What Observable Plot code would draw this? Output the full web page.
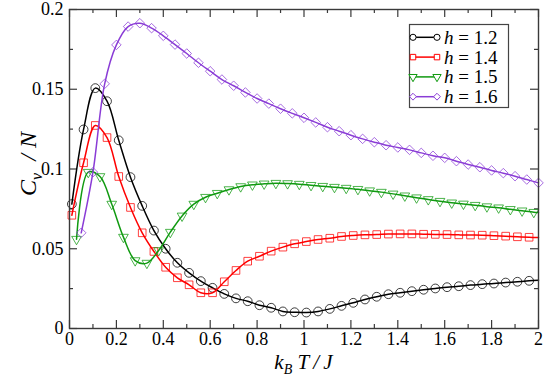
<!DOCTYPE html>
<html><head><meta charset="utf-8">
<script src="https://cdn.jsdelivr.net/npm/d3@7"></script>
<script src="https://cdn.jsdelivr.net/npm/@observablehq/plot@0.6"></script>
<style>
body{margin:0;background:#fff}
#chart{width:545px;height:377px}
#chart svg text, #chart svg tspan{font-family:"Liberation Serif","Liberation Sans",Arial,sans-serif !important;}
</style>
</head><body><div id="chart"></div>
<script>
// Sample temperatures (k_B T / J)
const tGridA = [0.01,0.06,0.11,0.16,0.21,0.26,0.31,0.36,0.41,0.46,0.51,0.56,0.61,0.66,0.71,0.76,0.81,0.86,0.91,0.96,1.01,1.06,1.11,1.16,1.21,1.26,1.31,1.36,1.41,1.46,1.51,1.56,1.61,1.66,1.71,1.76,1.81,1.86,1.91,1.96];
const tGridB = [0.03,0.08,0.13,0.18,0.23,0.28,0.33,0.38,0.43,0.48,0.53,0.58,0.63,0.68,0.73,0.78,0.83,0.88,0.93,0.98,1.03,1.08,1.13,1.18,1.23,1.28,1.33,1.38,1.43,1.48,1.53,1.58,1.63,1.68,1.73,1.78,1.83,1.88,1.93,1.98];
const tGridC = [0.05,0.10,0.15,0.20,0.25,0.30,0.35,0.40,0.45,0.50,0.55,0.60,0.65,0.70,0.75,0.80,0.85,0.90,0.95,1.00,1.05,1.10,1.15,1.20,1.25,1.30,1.35,1.40,1.45,1.50,1.55,1.60,1.65,1.70,1.75,1.80,1.85,1.90,1.95,2.00];

// C_v / N values
const cvH12 = [0.078,0.1248,0.1507,0.1425,0.118,0.0949,0.0769,0.0614,0.050,0.0412,0.0349,0.0297,0.0255,0.0217,0.0189,0.0171,0.0146,0.0130,0.0107,0.0102,0.0100,0.0107,0.0123,0.0142,0.0161,0.0182,0.0199,0.0215,0.0224,0.0234,0.0243,0.0251,0.0259,0.0265,0.0272,0.0278,0.0282,0.0288,0.0293,0.0299];
const cvH14 = [0.071,0.1039,0.1273,0.1197,0.0953,0.0759,0.0600,0.0483,0.0384,0.0318,0.0274,0.0224,0.0224,0.0293,0.0364,0.0422,0.0453,0.0485,0.0510,0.0531,0.0545,0.0558,0.0566,0.0577,0.0583,0.0587,0.0589,0.0592,0.0593,0.0593,0.0591,0.0590,0.0589,0.0587,0.0586,0.0585,0.0582,0.0579,0.0575,0.0572];
const cvH15 = [0.056,0.098,0.0953,0.078,0.0573,0.0426,0.041,0.0489,0.0604,0.0706,0.0780,0.0823,0.0848,0.0871,0.0890,0.0901,0.0907,0.0911,0.0909,0.0905,0.0898,0.0892,0.0886,0.0880,0.0873,0.0864,0.0855,0.0844,0.0832,0.0820,0.0809,0.0798,0.0788,0.0781,0.0773,0.0764,0.0757,0.0747,0.0738,0.0729];
const cvH16 = [0.060,0.098,0.1534,0.1778,0.1893,0.1914,0.1883,0.1835,0.1780,0.1724,0.1666,0.1613,0.1561,0.1522,0.1480,0.1442,0.1410,0.1378,0.1349,0.1321,0.1292,0.1262,0.1237,0.1212,0.1189,0.1168,0.1149,0.1135,0.1120,0.1101,0.1083,0.1070,0.1049,0.1028,0.1011,0.0991,0.0974,0.0955,0.0934,0.0913];
// where each curve meets the right edge (k_B T / J = 2)
const edgeT = 2;
const edgeValues = [0.0303, 0.0570, 0.0727, null];

const hLabels = ["1.2","1.4","1.5","1.6"];
const colors = ["#000000","#ff0000","#109a10","#8a3cd6"];
const symbols = ["circle","square","triangle","diamond2"];
const rotations = [0,0,180,0];
const markerR = [4.4,4.3,3.6,4.3];

const xTicks = [0,0.2,0.4,0.6,0.8,1,1.2,1.4,1.6,1.8,2];
const xTickLabels = ["0","0.2","0.4","0.6","0.8","1","1.2","1.4","1.6","1.8","2"];
const xMinor = [0.1,0.3,0.5,0.7,0.9,1.1,1.3,1.5,1.7,1.9];
const yTicks = [0,0.05,0.1,0.15,0.2];
const yTickLabels = ["0","0.05","0.1","0.15","0.2"];
const yMinor = [0.025,0.075,0.125,0.175];

const grids = [tGridA, tGridA, tGridB, tGridC];
const values = [cvH12, cvH14, cvH15, cvH16];

const series = hLabels.map((h,i) => ({
  h, color: colors[i], symbol: symbols[i], rotate: rotations[i], r: markerR[i],
  pts: grids[i].map((t,j) => ({h, t, v: values[i][j]})),
  end: edgeValues[i]
}));

const W = 545, H = 377, mL = 69, mR = 7, mT = 9, mB = 49;
const fw = W - mL - mR, fh = H - mT - mB;
const frameColor = "#3a3a3a";
const fontStack = '"Liberation Serif", "Liberation Sans", Arial, sans-serif';

const marks = [
  Plot.ruleX(xTicks, {stroke: frameColor, strokeWidth: 1.2, insetTop: fh - 8}),
  Plot.ruleX(xTicks, {stroke: frameColor, strokeWidth: 1.2, insetBottom: fh - 8}),
  Plot.ruleX(xMinor, {stroke: frameColor, strokeWidth: 1.2, insetTop: fh - 4}),
  Plot.ruleX(xMinor, {stroke: frameColor, strokeWidth: 1.2, insetBottom: fh - 4}),
  Plot.ruleY(yTicks, {stroke: frameColor, strokeWidth: 1.2, insetRight: fw - 8}),
  Plot.ruleY(yTicks, {stroke: frameColor, strokeWidth: 1.2, insetLeft: fw - 8}),
  Plot.ruleY(yMinor, {stroke: frameColor, strokeWidth: 1.2, insetRight: fw - 4}),
  Plot.ruleY(yMinor, {stroke: frameColor, strokeWidth: 1.2, insetLeft: fw - 4}),
  Plot.axisX(xTicks, {anchor: "bottom", tickSize: 0, tickPadding: 4, label: null,
    tickFormat: (d,i) => xTickLabels[i], fontSize: 18, fill: "#000"}),
  Plot.axisY(yTicks, {anchor: "left", tickSize: 0, tickPadding: 6, label: null,
    tickFormat: (d,i) => yTickLabels[i], fontSize: 18, fill: "#000"}),
];
for (const s of series) {
  const linePts = s.end != null ? [...s.pts, {h: s.h, t: edgeT, v: s.end}] : s.pts;
  marks.push(Plot.line(linePts, {x: "t", y: "v", stroke: s.color, strokeWidth: 1.5, curve: "catmull-rom"}));
  marks.push(Plot.dot(s.pts, {x: "t", y: "v", stroke: s.color, strokeWidth: 1, strokeOpacity: 0.75,
    symbol: s.symbol, rotate: s.rotate, r: s.r}));
}
marks.push(Plot.frame({stroke: frameColor, strokeWidth: 1.4}));

const chart = Plot.plot({
  width: W, height: H, marginLeft: mL, marginRight: mR, marginTop: mT, marginBottom: mB,
  x: {domain: [0, 2]},
  y: {domain: [0, 0.2]},
  style: {fontFamily: fontStack, fontSize: "18px", background: "#fff", color: "#000"},
  marks
});
document.getElementById("chart").appendChild(chart);

// Axis titles and legend
const svg = d3.select(chart);

const yt = svg.append("text")
  .attr("transform", `translate(36,164) rotate(-90)`)
  .attr("text-anchor", "middle").attr("font-size", 24)
  .attr("font-style", "italic").attr("fill", "#000");
yt.append("tspan").text("C");
yt.append("tspan").attr("dy", 6).attr("font-size", 16).text("v");
yt.append("tspan").attr("dy", -6).text("\u2002/ N");

const xt = svg.append("text")
  .attr("x", mL + fw/2).attr("y", 369)
  .attr("text-anchor", "middle").attr("font-size", 21)
  .attr("font-style", "italic").attr("fill", "#000");
xt.append("tspan").text("k");
xt.append("tspan").attr("dy", 5).attr("font-size", 14).text("B");
xt.append("tspan").attr("dy", -5).text(" T\u2009/\u2009J");

const lg = svg.append("g");
lg.append("rect").attr("x", 409.5).attr("y", 24.5).attr("width", 99).attr("height", 83)
  .attr("fill", "#fff").attr("stroke", "#444").attr("stroke-width", 1.2);
const symMap = {circle: d3.symbolCircle, square: d3.symbolSquare, triangle: d3.symbolTriangle, diamond2: d3.symbolDiamond2};
series.forEach((s, i) => {
  const cy = 37.3 + i * 19.8;
  lg.append("line").attr("x1", 413).attr("x2", 437).attr("y1", cy).attr("y2", cy)
    .attr("stroke", s.color).attr("stroke-width", 1.5);
  for (const cx of [413, 437]) {
    lg.append("path").attr("d", d3.symbol(symMap[s.symbol], 30)())
      .attr("transform", `translate(${cx},${cy}) rotate(${s.rotate})`)
      .attr("fill", "#fff").attr("stroke", s.color).attr("stroke-width", 1);
  }
  const tx = lg.append("text").attr("x", 444).attr("y", cy + 6.5)
    .attr("text-anchor", "start").attr("font-size", 19).attr("fill", "#000");
  tx.append("tspan").attr("font-style", "italic").text("h");
  tx.append("tspan").text(" = " + s.h);
});
</script>
</body></html>
